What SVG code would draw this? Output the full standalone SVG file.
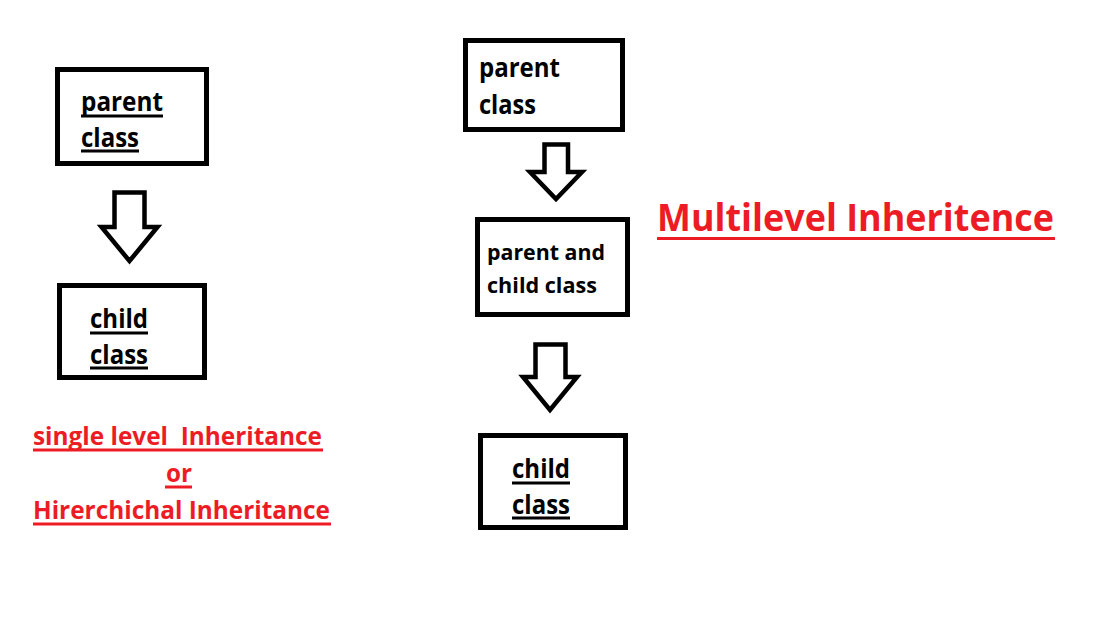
<svg xmlns="http://www.w3.org/2000/svg" width="1100" height="622" viewBox="0 0 1100 622">
<style>
.box{fill:#fff;stroke:#000;stroke-width:5}
.arrow{fill:#fff;stroke:#000;stroke-width:4.5;stroke-linejoin:miter}
.t{font-family:"Open Sans","Liberation Sans",sans-serif;font-weight:bold;fill:#000}
.r{font-family:"Open Sans","Liberation Sans",sans-serif;font-weight:bold;fill:#ed1c24}
.ul{stroke:#000;stroke-width:3}
.rul{stroke:#ed1c24;stroke-width:3}
</style>
<rect width="1100" height="622" fill="#fff"/>
<g id="single-parent">
<rect class="box" x="57.5" y="69.5" width="149" height="94"/>
<text class="t" x="81" y="111" font-size="27" textLength="82" lengthAdjust="spacingAndGlyphs">parent</text>
<line class="ul" x1="81" y1="116" x2="163" y2="116"/>
<text class="t" x="81" y="147" font-size="27" textLength="58" lengthAdjust="spacingAndGlyphs">class</text>
<line class="ul" x1="81" y1="151" x2="139" y2="151"/>
</g>
<g id="single-child">
<rect class="box" x="59.5" y="285.5" width="145" height="92"/>
<text class="t" x="90" y="328" font-size="27" textLength="58" lengthAdjust="spacingAndGlyphs">child</text>
<line class="ul" x1="90" y1="333" x2="148" y2="333"/>
<text class="t" x="90" y="364" font-size="27" textLength="58" lengthAdjust="spacingAndGlyphs">class</text>
<line class="ul" x1="90" y1="368" x2="148" y2="368"/>
</g>
<g id="multi-parent">
<rect class="box" x="465.5" y="40.5" width="157" height="89"/>
<text class="t" x="479" y="77" font-size="27" textLength="81" lengthAdjust="spacingAndGlyphs">parent</text>
<text class="t" x="479" y="114" font-size="27" textLength="57" lengthAdjust="spacingAndGlyphs">class</text>
</g>
<g id="multi-middle">
<rect class="box" x="477.5" y="219.5" width="150" height="95"/>
<text class="t" x="487" y="260" font-size="22" textLength="118" lengthAdjust="spacingAndGlyphs">parent and</text>
<text class="t" x="487" y="293" font-size="22" textLength="110" lengthAdjust="spacingAndGlyphs">child class</text>
</g>
<g id="multi-child">
<rect class="box" x="480.5" y="435.5" width="145" height="92"/>
<text class="t" x="512" y="478" font-size="27" textLength="58" lengthAdjust="spacingAndGlyphs">child</text>
<line class="ul" x1="512" y1="483" x2="570" y2="483"/>
<text class="t" x="512" y="514" font-size="27" textLength="58" lengthAdjust="spacingAndGlyphs">class</text>
<line class="ul" x1="512" y1="518" x2="570" y2="518"/>
</g>
<g id="connectors">
<polygon class="arrow" points="114.5,192.5 144.5,192.5 144.5,227 157.5,227 129.5,261 101.5,227 114.5,227"/>
<polygon class="arrow" points="544.5,144.5 568,144.5 568,172 582,172 556,199 530,172 544.5,172"/>
<polygon class="arrow" points="535.5,344.5 565.5,344.5 565.5,377 577,377 550,410 523,377 535.5,377"/>
</g>
<g id="labels">
<text class="r" x="33" y="445" font-size="25" textLength="289" lengthAdjust="spacingAndGlyphs" xml:space="preserve">single level  Inheritance</text>
<line class="rul" x1="33" y1="450" x2="323" y2="450"/>
<text class="r" x="166" y="482" font-size="25" textLength="26" lengthAdjust="spacingAndGlyphs">or</text>
<line class="rul" x1="165" y1="487" x2="192" y2="487"/>
<text class="r" x="33" y="519" font-size="25" textLength="297" lengthAdjust="spacingAndGlyphs">Hirerchichal Inheritance</text>
<line class="rul" x1="33" y1="524" x2="331" y2="524"/>
<text class="r" x="657" y="231" font-size="38" textLength="397" lengthAdjust="spacingAndGlyphs">Multilevel Inheritence</text>
<line class="rul" x1="657" y1="238.5" x2="1055" y2="238.5" stroke-width="4"/>
</g>
</svg>
